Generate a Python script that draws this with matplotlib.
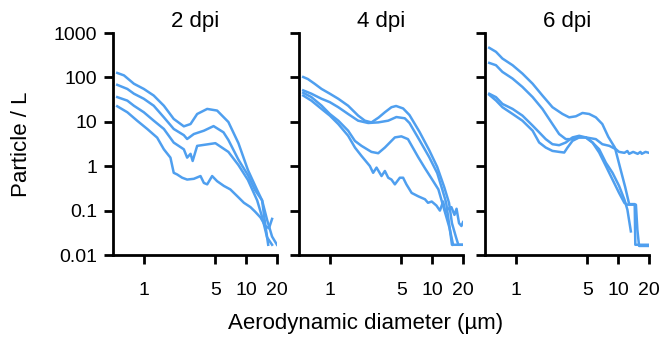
import matplotlib
matplotlib.use("agg")
import matplotlib.pyplot as plt
from matplotlib.ticker import NullLocator

plt.rcParams["font.family"] = ["Liberation Sans", "DejaVu Sans"]

# particle size distributions (diameter in um, particles per L)
panel_titles = ["2 dpi", "4 dpi", "6 dpi"]

d2_a_x = [0.55, 0.64, 0.8, 1.0, 1.25, 1.57, 1.96, 2.46, 2.86, 3.32, 4.16, 5.2, 6.7, 8.4, 10.4, 12.8, 14.3, 16.0, 17.9, 20.0]
d2_a_y = [126, 111, 72, 55, 39, 23, 11.6, 7.9, 8.9, 15, 19.5, 17.9, 9.9, 3.3, 0.82, 0.29, 0.17, 0.062, 0.026, 0.017]
d2_b_x = [0.55, 0.69, 0.8, 1.0, 1.25, 1.57, 1.96, 2.46, 2.65, 3.08, 3.86, 4.8, 6.0, 6.7, 8.4, 10.4, 12.2, 14.3, 15.3, 16.4]
d2_b_y = [68, 55, 43, 33, 23, 12.6, 6.9, 5.0, 4.1, 5.3, 6.3, 8.0, 5.8, 3.9, 1.4, 0.63, 0.29, 0.17, 0.052, 0.017]
d2_c_x = [0.55, 0.69, 0.8, 1.0, 1.25, 1.57, 1.96, 2.46, 2.65, 2.86, 3.0, 3.32, 4.16, 5.0, 6.7, 8.4, 10.4, 12.8, 14.3, 16.0, 17.9]
d2_c_y = [36, 30, 23, 16.4, 10.6, 6.9, 3.4, 2.4, 1.56, 1.9, 1.31, 2.87, 3.1, 3.3, 2.1, 1.06, 0.49, 0.17, 0.072, 0.025, 0.017]
d2_d_x = [0.55, 0.69, 0.86, 1.08, 1.35, 1.57, 1.82, 1.96, 2.12, 2.37, 2.65, 3.08, 3.58, 3.86, 4.16, 4.65, 5.2,
          6.05, 7.0, 8.2, 9.5, 11.0, 12.2, 13.8, 15.4, 16.7, 17.9]
d2_d_y = [22.4, 16.4, 10.6, 6.9, 4.4, 2.4, 1.56, 0.71, 0.65, 0.55, 0.5, 0.52, 0.6, 0.42, 0.39, 0.6, 0.46,
          0.36, 0.3, 0.21, 0.15, 0.12, 0.095, 0.07, 0.045, 0.04, 0.065]

d4_a_x = [0.55, 0.61, 0.71, 0.83, 1.0, 1.21, 1.51, 1.89, 2.2, 2.55, 3.0, 3.45, 4.0, 4.44, 5.2, 6.0, 7.5, 9.35,
          11.2, 13.1, 14.6, 15.6, 17.1, 18.0, 20.0]
d4_a_y = [102, 92, 72, 55, 43, 33, 23, 13.8, 10.6, 9.7, 12.5, 16.4, 21.3, 22.7, 20, 14.2, 6.0, 2.3,
          0.96, 0.34, 0.15, 0.052, 0.025, 0.017, 0.017]
d4_b_x = [0.55, 0.66, 0.83, 1.0, 1.21, 1.51, 1.89, 2.37, 2.97, 3.72, 4.47, 5.4, 6.0, 7.5, 9.35, 11.2, 12.6,
          13.7, 14.6, 15.6, 20.0]
d4_b_y = [51, 43, 33, 27.7, 21.3, 15, 10.6, 9.4, 9.7, 10.6, 12.8, 12.0, 9.4, 3.9, 1.6, 0.7, 0.29,
          0.15, 0.052, 0.017, 0.017]
d4_c_x = [0.55, 0.66, 0.83, 1.0, 1.21, 1.51, 1.76, 2.04, 2.55, 2.97, 3.45, 4.32, 5.0, 5.8, 7.3, 8.5, 10.0,
          11.5, 13.2, 14.8, 16.0]
d4_c_y = [45, 36, 23.2, 15, 10.6, 6.3, 3.7, 2.87, 2.1, 1.96, 2.63, 4.45, 4.7, 4.07, 1.6, 0.9, 0.5,
          0.3, 0.1, 0.04, 0.017]
d4_d_x = [0.55, 0.66, 0.83, 1.0, 1.21, 1.51, 1.76, 2.04, 2.46, 2.65, 2.86, 3.2, 3.45, 3.72, 4.0, 4.32, 4.83,
          5.2, 5.6, 6.3, 7.3, 8.5, 9.1, 9.9, 11.0, 11.9, 12.8, 13.5, 14.3, 15.4, 16.5, 17.3, 18.3, 19.3, 20.0]
d4_d_y = [39, 30, 19.5, 13.8, 8.9, 4.84, 2.63, 1.7, 1.01, 0.71, 0.93, 0.6, 0.78, 0.55, 0.5, 0.39, 0.55,
          0.55, 0.39, 0.25, 0.21, 0.18, 0.15, 0.16, 0.13, 0.1, 0.16, 0.09, 0.11, 0.12, 0.08, 0.11, 0.052, 0.045, 0.055]

d6_a_x = [0.55, 0.64, 0.74, 0.93, 1.16, 1.46, 1.82, 2.28, 2.86, 3.32, 3.86, 4.48, 5.21, 6.05, 7.0, 8.0, 9.3,
          10.4, 11.7, 12.8, 14.5, 14.7, 20.0]
d6_a_y = [464, 377, 266, 188, 122, 72, 39, 21.3, 15, 12.6, 13.3, 15.8, 15, 12.6, 8.9, 4.6, 2.6,
          0.96, 0.34, 0.14, 0.14, 0.017, 0.017]
d6_b_x = [0.55, 0.64, 0.74, 0.93, 1.16, 1.46, 1.82, 2.28, 2.65, 3.08, 3.58, 4.16, 4.83, 6.05, 7.0, 8.2, 9.5,
          10.2, 11.5, 12.3, 12.8, 14.0, 15.5, 16.5, 17.0, 18.5, 20.0]
d6_b_y = [212, 188, 133, 94, 61, 36, 19.5, 8.9, 5.3, 4.07, 4.07, 4.45, 4.45, 4.07, 3.13, 2.87, 2.41,
          2.1, 2.0, 2.2, 1.9, 2.1, 1.9, 2.1, 1.9, 2.1, 2.0]
d6_c_x = [0.55, 0.64, 0.74, 0.93, 1.16, 1.46, 1.69, 1.96, 2.28, 2.65, 3.08, 3.58, 4.16, 4.83, 5.61, 6.52,
          7.58, 8.8, 10.2, 11.5, 12.3, 13.3]
d6_c_y = [42.8, 35.9, 25.3, 19.5, 13.8, 8.2, 5.8, 4.07, 3.13, 2.97, 3.42, 4.45, 4.84, 4.45, 3.42, 2.41,
          1.2, 0.71, 0.36, 0.177, 0.105, 0.034]
d6_d_x = [0.55, 0.64, 0.74, 0.93, 1.16, 1.46, 1.69, 1.96, 2.28, 2.65, 2.97, 3.2, 3.58, 4.16, 4.83, 5.61,
          6.52, 7.58, 8.8, 10.2, 11.5, 12.3, 14.9, 15.4, 16.0, 20.0]
d6_d_y = [40.6, 30.2, 21.3, 15, 10.6, 6.3, 3.42, 2.63, 2.21, 2.1, 2.03, 2.63, 3.73, 4.45, 4.45, 3.42,
          2.03, 1.01, 0.5, 0.25, 0.149, 0.136, 0.136, 0.037, 0.016, 0.016]

x_ticks = [1, 5, 10, 20]
x_tick_labels = ["1", "5", "10", "20"]
y_ticks = [0.01, 0.1, 1, 10, 100, 1000]
y_tick_labels = ["0.01", "0.1", "1", "10", "100", "1000"]

panels = [
    [(d2_a_x, d2_a_y), (d2_b_x, d2_b_y), (d2_c_x, d2_c_y), (d2_d_x, d2_d_y)],
    [(d4_a_x, d4_a_y), (d4_b_x, d4_b_y), (d4_c_x, d4_c_y), (d4_d_x, d4_d_y)],
    [(d6_a_x, d6_a_y), (d6_b_x, d6_b_y), (d6_c_x, d6_c_y), (d6_d_x, d6_d_y)],
]

line_color = "#4f9fef"
W, H = 662, 337
fig = plt.figure(figsize=(W / 100, H / 100), dpi=100)

lefts = [113, 299, 485]
for i, (left, title, curves) in enumerate(zip(lefts, panel_titles, panels)):
    ax = fig.add_axes([left / W, 1 - 255 / H, 164 / W, 222 / H])
    for xs, ys in curves:
        ax.plot(xs, ys, color=line_color, lw=1.8, solid_joinstyle="round")
    ax.set_xscale("log")
    ax.set_yscale("log")
    ax.set_xlim(0.5, 20)
    ax.set_ylim(0.01, 1000)
    ax.xaxis.set_minor_locator(NullLocator())
    ax.yaxis.set_minor_locator(NullLocator())
    ax.set_xticks(x_ticks, labels=x_tick_labels)
    if i == 0:
        ax.set_yticks(y_ticks, labels=y_tick_labels)
    else:
        ax.set_yticks(y_ticks, labels=[""] * len(y_ticks))
    for side in ("top", "right"):
        ax.spines[side].set_visible(False)
    for side in ("left", "bottom"):
        ax.spines[side].set_linewidth(2)
    ax.tick_params(axis="both", direction="out", length=6.5, width=2, labelsize=14)
    ax.tick_params(axis="x", pad=13)
    ax.tick_params(axis="y", pad=5)
    fig.text((left + 82) / W, 1 - 21 / H, title, ha="center", va="center", fontsize=16)

fig.text(228 / W, 1 - 323 / H, "Aerodynamic diameter (µm)", ha="left", va="center", fontsize=16)
fig.text(22 / W, 1 - 144 / H, "Particle / L", ha="center", va="center", rotation=90, fontsize=16)

fig.savefig("out.png", dpi=100)
